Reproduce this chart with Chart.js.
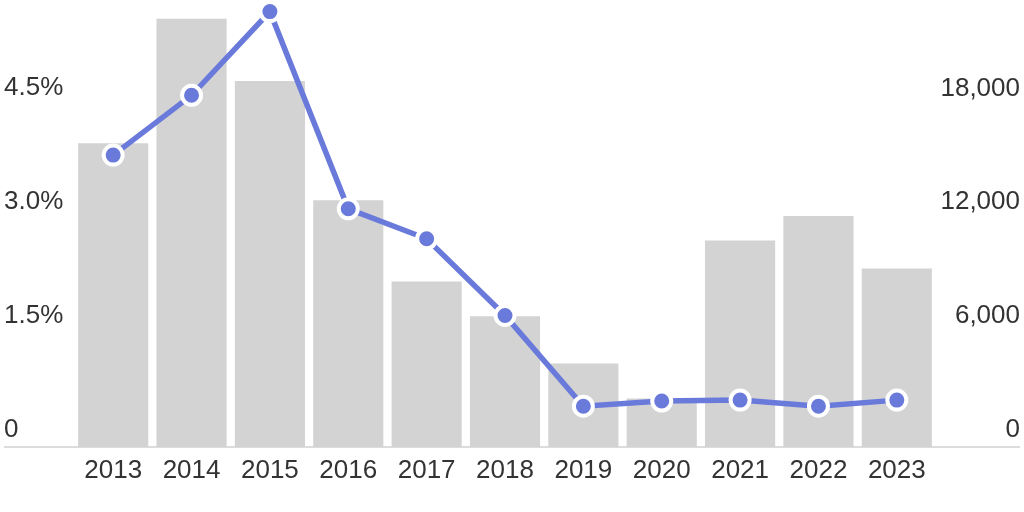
<!DOCTYPE html>
<html>
<head>
<meta charset="utf-8">
<script src="https://cdn.jsdelivr.net/npm/chart.js@4.4.1/dist/chart.umd.min.js"></script>
<style>
  html, body { margin: 0; padding: 0; background: #fff; }
  #wrap { width: 1024px; height: 512px; }
</style>
</head>
<body>
<div id="wrap"><canvas id="chart"></canvas></div>
<script>
// chart data
const years = ['2013', '2014', '2015', '2016', '2017', '2018', '2019', '2020', '2021', '2022', '2023'];
const barPercent = [4.0, 5.64, 4.82, 3.25, 2.18, 1.72, 1.10, 0.64, 2.72, 3.04, 2.35];
const lineCount = [15380, 18530, 22940, 12550, 10970, 6930, 2150, 2420, 2470, 2150, 2470];
const leftTicks = [0, 1.5, 3.0, 4.5];
const leftTickLabels = ['0', '1.5%', '3.0%', '4.5%'];
const rightTicks = [0, 6000, 12000, 18000];
const rightTickLabels = ['0', '6,000', '12,000', '18,000'];

const textColor = '#333333';
const lineColor = '#6a7adb';
const fontFamily = '"Liberation Sans", Arial, sans-serif';

// baseline spans the whole width, not just the chart area
const baselinePlugin = {
  id: 'baseline',
  beforeDatasetsDraw(chart) {
    const y = chart.scales.y.getPixelForValue(0);
    const ctx = chart.ctx;
    ctx.save();
    ctx.strokeStyle = '#dcdcdc';
    ctx.lineWidth = 2;
    ctx.beginPath();
    ctx.moveTo(4, y);
    ctx.lineTo(chart.width - 4, y);
    ctx.stroke();
    ctx.restore();
  }
};

new Chart(document.getElementById('chart'), {
  data: {
    labels: years,
    datasets: [
      {
        type: 'line',
        data: lineCount,
        yAxisID: 'y2',
        borderColor: lineColor,
        borderWidth: 5.5,
        pointRadius: 9.5,
        pointBorderWidth: 4,
        pointBackgroundColor: lineColor,
        pointBorderColor: '#ffffff',
        tension: 0,
        clip: false,
        order: 0
      },
      {
        type: 'bar',
        data: barPercent,
        yAxisID: 'y',
        backgroundColor: '#d3d3d3',
        categoryPercentage: 1,
        barPercentage: 0.895,
        order: 1
      }
    ]
  },
  options: {
    responsive: true,
    maintainAspectRatio: false,
    animation: false,
    layout: { padding: { left: 4, right: 4, top: 0, bottom: 0 } },
    plugins: {
      legend: { display: false },
      tooltip: { enabled: false }
    },
    scales: {
      x: {
        grid: { display: false, drawTicks: false },
        border: { display: false },
        ticks: {
          color: textColor,
          font: { family: fontFamily, size: 26 },
          padding: 8,
          maxRotation: 0
        },
        afterFit(scale) { scale.height = 65; }
      },
      y: {
        position: 'left',
        min: 0,
        max: 5.68,
        grid: { display: false, drawTicks: false },
        border: { display: false },
        afterBuildTicks(scale) { scale.ticks = leftTicks.map(v => ({ value: v })); },
        ticks: {
          color: textColor,
          font: { family: fontFamily, size: 26 },
          crossAlign: 'far',
          labelOffset: -17,
          padding: 0,
          callback: (v, i) => leftTickLabels[i]
        },
        afterFit(scale) { scale.width = 70; }
      },
      y2: {
        position: 'right',
        min: 0,
        max: 22730,
        grid: { display: false, drawTicks: false },
        border: { display: false },
        afterBuildTicks(scale) { scale.ticks = rightTicks.map(v => ({ value: v })); },
        ticks: {
          color: textColor,
          font: { family: fontFamily, size: 26 },
          crossAlign: 'far',
          labelOffset: -17,
          padding: 0,
          callback: (v, i) => rightTickLabels[i]
        },
        afterFit(scale) { scale.width = 84; }
      }
    }
  },
  plugins: [baselinePlugin]
});
</script>
</body>
</html>
